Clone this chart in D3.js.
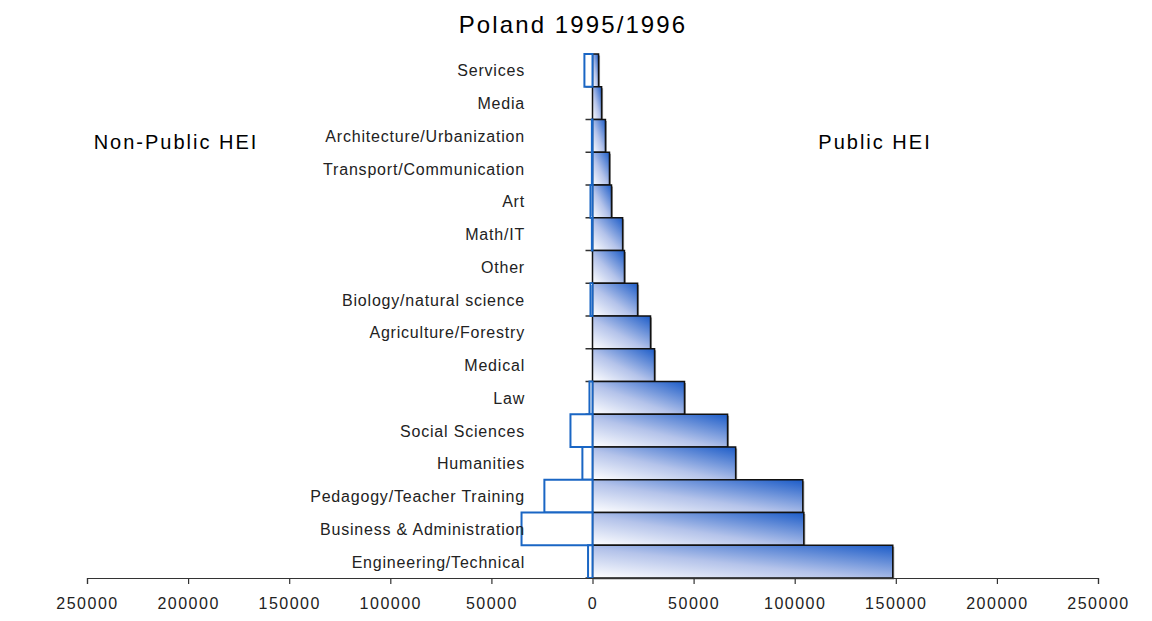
<!DOCTYPE html>
<html>
<head>
<meta charset="utf-8">
<script src="https://cdn.jsdelivr.net/npm/d3@7"></script>
<style>
  html, body { margin: 0; padding: 0; background: #fff; }
  svg { display: block; }
</style>
</head>
<body>
<svg id="chart" width="1152" height="621"></svg>
<script>
const categories = [
  "Services", "Media", "Architecture/Urbanization", "Transport/Communication",
  "Art", "Math/IT", "Other", "Biology/natural science", "Agriculture/Forestry",
  "Medical", "Law", "Social Sciences", "Humanities", "Pedagogy/Teacher Training",
  "Business & Administration", "Engineering/Technical"
];
const publicHEI = [
  3000, 4500, 6400, 8400, 9400, 14900, 15800, 22300, 28700,
  30700, 45500, 66800, 70800, 104000, 104500, 148500
];
const nonPublicHEI = [
  4000, 0, 300, 300, 1000, 300, 0, 1000, 0,
  0, 1500, 10900, 5000, 23800, 35100, 2200
];
const tickValues = [-250000, -200000, -150000, -100000, -50000, 0, 50000, 100000, 150000, 200000, 250000];
const titleText = "Poland 1995/1996";
const leftLabel = "Non-Public HEI";
const rightLabel = "Public HEI";

const svg = d3.select("#chart");
const font = "'Liberation Sans', Arial, sans-serif";

const x = d3.scaleLinear().domain([-250000, 250000]).range([87, 1098]);
const y = d3.scaleBand().domain(categories).range([54, 578]).padding(0);

const defs = svg.append("defs");
const grad = defs.append("linearGradient")
  .attr("id", "pubGrad")
  .attr("x1", "0").attr("y1", "1").attr("x2", "1").attr("y2", "0");
grad.append("stop").attr("offset", "0").attr("stop-color", "#ffffff");
grad.append("stop").attr("offset", "0.45").attr("stop-color", "#b4c3ea");
grad.append("stop").attr("offset", "1").attr("stop-color", "#1c5cc8");

const data = categories.map((c, i) => ({ cat: c, pub: publicHEI[i], np: nonPublicHEI[i] }));

// title
svg.append("text")
  .attr("x", 573).attr("y", 33)
  .attr("text-anchor", "middle")
  .attr("font-family", font).attr("font-size", 24)
  .attr("letter-spacing", 2.1)
  .attr("fill", "#000")
  .text(titleText);

svg.append("text")
  .attr("x", 176).attr("y", 149)
  .attr("text-anchor", "middle")
  .attr("font-family", font).attr("font-size", 20)
  .attr("letter-spacing", 2)
  .attr("fill", "#000")
  .text(leftLabel);

svg.append("text")
  .attr("x", 875).attr("y", 149)
  .attr("text-anchor", "middle")
  .attr("font-family", font).attr("font-size", 20)
  .attr("letter-spacing", 2)
  .attr("fill", "#000")
  .text(rightLabel);

// small tick lines at band boundaries (left of zero)
const bounds = categories.map(c => y(c)).concat([y.range()[1]]);
svg.append("g").selectAll("line").data(bounds).join("line")
  .attr("x1", x(0) - 7).attr("x2", x(0))
  .attr("y1", d => d).attr("y2", d => d)
  .attr("stroke", "#333").attr("stroke-width", 1.5);

// public bars shadow
svg.append("g").selectAll("rect").data(data).join("rect")
  .attr("x", x(0) + 1.5)
  .attr("y", d => y(d.cat) + 1.5)
  .attr("width", d => x(d.pub) - x(0))
  .attr("height", y.bandwidth())
  .attr("fill", "#9a9a9a");

// public bars
svg.append("g").selectAll("rect").data(data).join("rect")
  .attr("x", x(0))
  .attr("y", d => y(d.cat))
  .attr("width", d => x(d.pub) - x(0))
  .attr("height", y.bandwidth())
  .attr("fill", "url(#pubGrad)")
  .attr("stroke", "#111")
  .attr("stroke-width", 1.5);

// non-public bars
svg.append("g").selectAll("rect").data(data.filter(d => d.np > 0)).join("rect")
  .attr("x", d => x(-d.np))
  .attr("y", d => y(d.cat))
  .attr("width", d => x(0) - x(-d.np))
  .attr("height", y.bandwidth())
  .attr("fill", "#fff")
  .attr("stroke", "#1a66c4")
  .attr("stroke-width", 2);

// category labels
svg.append("g").selectAll("text").data(categories).join("text")
  .attr("x", 525)
  .attr("y", d => y(d) + y.bandwidth() / 2 + 6)
  .attr("text-anchor", "end")
  .attr("font-family", font).attr("font-size", 16)
  .attr("letter-spacing", 0.8)
  .attr("fill", "#222")
  .text(d => d);

// x axis
const axis = d3.axisBottom(x)
  .tickValues(tickValues)
  .tickSize(6)
  .tickFormat(d => String(Math.abs(d)));
const gx = svg.append("g")
  .attr("transform", "translate(0,578)")
  .call(axis);
gx.select(".domain").attr("stroke", "#333").attr("stroke-width", 1.2);
gx.selectAll(".tick line").attr("stroke", "#333").attr("stroke-width", 1.2);
gx.selectAll(".tick text")
  .attr("font-family", font).attr("font-size", 16)
  .attr("letter-spacing", 1.5)
  .attr("fill", "#222")
  .attr("dy", "1.4em");
</script>
</body>
</html>
